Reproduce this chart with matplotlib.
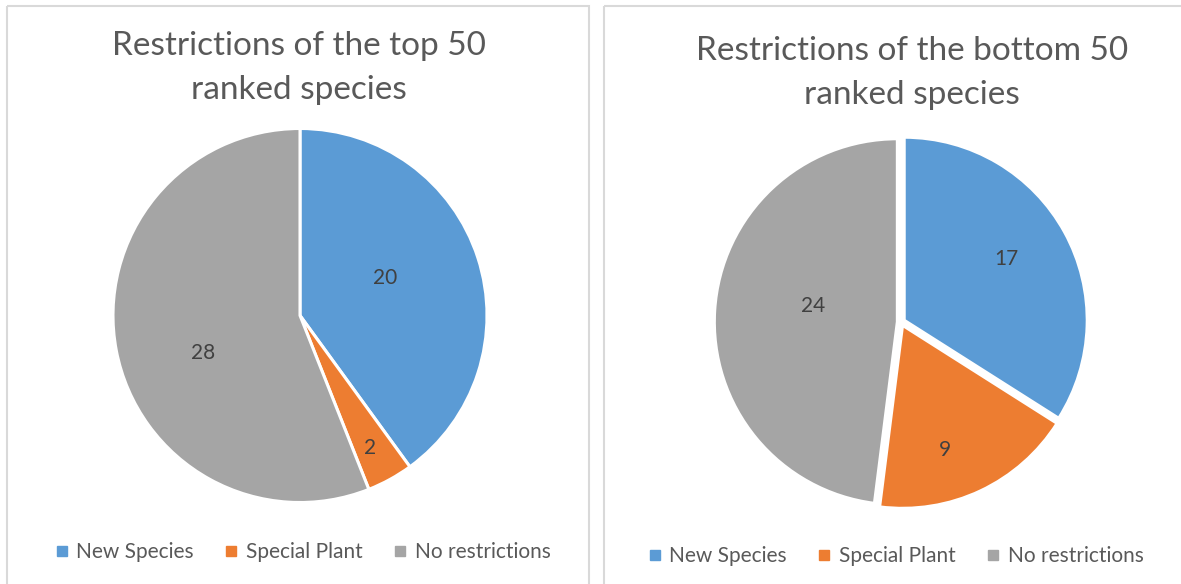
import numpy as np
import matplotlib
matplotlib.use("Agg")
import matplotlib.pyplot as plt
from matplotlib.patches import Rectangle
from matplotlib.lines import Line2D

plt.rcParams['font.family'] = ['Lato', 'DejaVu Sans']

categories = ['New Species', 'Special Plant', 'No restrictions']
top50_counts = [20, 2, 28]
bottom50_counts = [17, 9, 24]
colors = ['#5B9BD5', '#ED7D31', '#A5A5A5']

W, H = 1181, 584
fig = plt.figure(figsize=(W / 100, H / 100), dpi=100)
fig.patch.set_facecolor('white')


def px_axes(x0, y0, x1, y1):
    # axes box given in pixel coords measured from the top-left corner
    return fig.add_axes([x0 / W, 1 - y1 / H, (x1 - x0) / W, (y1 - y0) / H])


def draw_pie(ax, counts, explode, label_dist, label_frac):
    wedges, _ = ax.pie(counts, colors=colors, startangle=90, counterclock=False,
                       explode=explode, radius=1.0,
                       wedgeprops=dict(edgecolor='white', linewidth=2.2))
    # value labels placed along each wedge (frac = position between theta1 and theta2)
    for w, val, d, f in zip(wedges, counts, label_dist, label_frac):
        ang = np.deg2rad(w.theta1 + f * (w.theta2 - w.theta1))
        cx, cy = w.center
        ax.text(cx + d * np.cos(ang), cy + d * np.sin(ang), str(val),
                ha='center', va='center', fontsize=15, color='#404040')
    ax.set_xlim(-1.0, 1.0)
    ax.set_ylim(-1.0, 1.0)
    ax.set_aspect('equal')
    ax.axis('off')
    return wedges


# panel frames
frame = fig.add_axes([0, 0, 1, 1])
frame.set_xlim(0, W)
frame.set_ylim(H, 0)
frame.axis('off')
frame.add_patch(Rectangle((6.5, 5.5), 582, 600, fill=False, edgecolor='#D9D9D9', linewidth=1.5))
frame.add_patch(Rectangle((603.5, 5.5), 600, 600, fill=False, edgecolor='#D9D9D9', linewidth=1.5))

ax1 = px_axes(113, 128, 487, 503)
draw_pie(ax1, top50_counts, [0, 0, 0], [0.5, 0.8, 0.556], [0.54, 0.44, 0.55])

ax2 = px_axes(718, 139, 1084, 505)
draw_pie(ax2, bottom50_counts, [0.02, 0.02, 0.02], [0.65, 0.72, 0.47], [0.52, 0.40, 0.46])

title_kw = dict(ha='center', va='center', fontsize=24, color='#595959', linespacing=1.62)
fig.text(299 / W, 1 - 68 / H, 'Restrictions of the top 50\nranked species', **title_kw)
fig.text(912 / W, 1 - 73 / H, 'Restrictions of the bottom 50\nranked species', **title_kw)

handles = [Line2D([], [], marker='s', linestyle='none', markersize=6.5,
                  markerfacecolor=c, markeredgecolor=c) for c in colors]
leg_kw = dict(ncol=3, frameon=False, fontsize=15, handlelength=0.6, handletextpad=0.4,
              columnspacing=1.5, labelcolor='#595959', loc='center')
fig.legend(handles, categories, bbox_to_anchor=(303 / W, 1 - 552 / H), **leg_kw)
fig.legend(handles, categories, bbox_to_anchor=(896 / W, 1 - 556 / H), **leg_kw)

fig.savefig('out.png', dpi=100, facecolor='white')
